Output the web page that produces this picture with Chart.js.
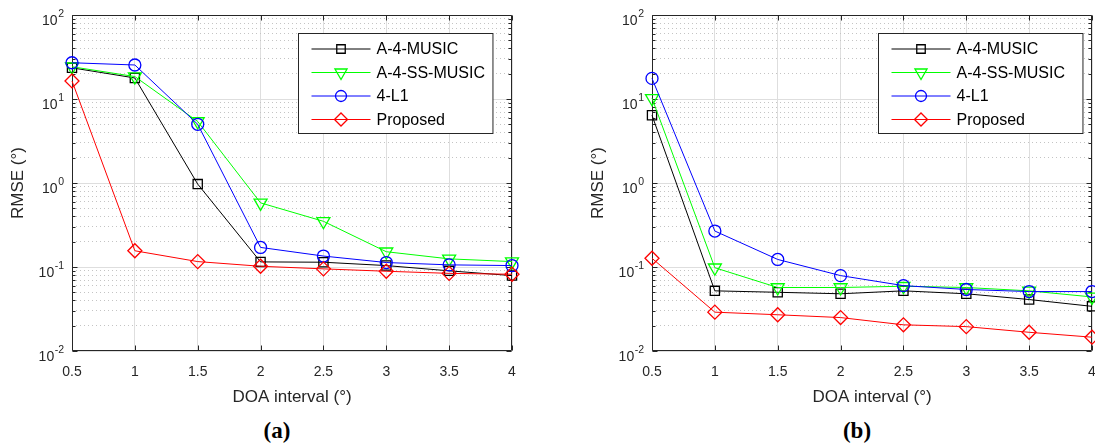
<!DOCTYPE html>
<html>
<head>
<meta charset="utf-8">
<script src="https://cdn.jsdelivr.net/npm/chart.js@4.4.0/dist/chart.umd.min.js"></script>
<style>
  html, body { margin: 0; padding: 0; background: #fff; overflow: hidden; width: 1095px; height: 446px; }
  .panel { position: absolute; top: 0; }
  #pa { left: 0; }
  #pb { left: 580px; }
  .cap { position: absolute; top: 417px; width: 60px; text-align: center; font: bold 23px "Liberation Serif", serif; color: #000; line-height: 27px; }
</style>
</head>
<body>
<div class="panel" id="pa"><canvas id="ca" width="547" height="410"></canvas></div>
<div class="panel" id="pb"><canvas id="cb" width="547" height="410"></canvas></div>
<div class="cap" style="left:247px">(a)</div>
<div class="cap" style="left:827px">(b)</div>
<script>
// x values and axis ticks
const doaInterval = [0.5, 1, 1.5, 2, 2.5, 3, 3.5, 4];
const yExponents = [-2, -1, 0, 1, 2];
const seriesNames = ['A-4-MUSIC', 'A-4-SS-MUSIC', '4-L1', 'Proposed'];

// panel (a)
const musicA    = [23.5, 17.8, 0.97, 0.115, 0.114, 0.104, 0.090, 0.079];
const ssMusicA  = [24.2, 18.5, 5.4, 0.58, 0.35, 0.152, 0.125, 0.116];
const l1A       = [27.0, 25.4, 5.0, 0.171, 0.135, 0.113, 0.106, 0.104];
const proposedA = [16.4, 0.156, 0.116, 0.102, 0.095, 0.089, 0.084, 0.082];

// panel (b)
const musicB    = [6.4, 0.052, 0.050, 0.048, 0.052, 0.048, 0.041, 0.034];
const ssMusicB  = [10.2, 0.098, 0.057, 0.057, 0.059, 0.057, 0.052, 0.044];
const l1B       = [17.6, 0.268, 0.123, 0.079, 0.060, 0.054, 0.051, 0.051];
const proposedB = [0.127, 0.029, 0.027, 0.025, 0.0205, 0.0195, 0.0167, 0.0146];

const axisColor = '#262626';
const fontName = '"Liberation Sans", Arial, sans-serif';

// marker look for each series
const looks = [
  { color: '#000000', pointStyle: 'rect', radius: 6.5, rotation: 0 },
  { color: '#00ff00', pointStyle: 'triangle', radius: 7.5, rotation: 180 },
  { color: '#0000ff', pointStyle: 'circle', radius: 6, rotation: 0 },
  { color: '#ff0000', pointStyle: 'rectRot', radius: 7, rotation: 0 }
];

function isDecade(v) {
  const l = Math.log10(v);
  return Math.abs(l - Math.round(l)) < 1e-9;
}

// grid values 1..9 x each decade
const yGrid = [];
for (let e = yExponents[0]; e < yExponents[yExponents.length - 1]; e++) {
  for (let m = 1; m < 10; m++) yGrid.push(m * Math.pow(10, e));
}
yGrid.push(Math.pow(10, yExponents[yExponents.length - 1]));

// axes box, inward ticks, y labels with exponents, legend box
const framePlugin = {
  id: 'frame',
  beforeDatasetsDraw(chart) {
    const { ctx, chartArea: a, scales: { x, y } } = chart;
    ctx.save();
    ctx.strokeStyle = axisColor;
    ctx.lineWidth = 1;
    ctx.beginPath();
    const L = Math.round(a.left) + 0.5, R = Math.round(a.right) - 0.5;
    const T = Math.round(a.top) + 0.5, B = Math.round(a.bottom) - 0.5;
    ctx.rect(L, T, R - L, B - T);
    doaInterval.forEach(v => {
      const px = Math.round(x.getPixelForValue(v)) + 0.5;
      ctx.moveTo(px, B); ctx.lineTo(px, B - 5);
      ctx.moveTo(px, T); ctx.lineTo(px, T + 5);
    });
    yGrid.forEach(v => {
      const py = Math.round(y.getPixelForValue(v)) + 0.5;
      const len = isDecade(v) ? 5 : 3;
      ctx.moveTo(L, py); ctx.lineTo(L + len, py);
      ctx.moveTo(R, py); ctx.lineTo(R - len, py);
    });
    ctx.stroke();

    // y tick labels 10^e
    ctx.fillStyle = axisColor;
    ctx.textBaseline = 'alphabetic';
    yExponents.forEach(e => {
      const py = y.getPixelForValue(Math.pow(10, e));
      ctx.font = '10.5px ' + fontName;
      const ex = String(e);
      const exW = ctx.measureText(ex).width;
      ctx.textAlign = 'right';
      const xr = a.left - 8;
      ctx.fillText(ex, xr, py + 2);
      ctx.font = '14px ' + fontName;
      ctx.fillText('10', xr - exW - 0.5, py + 10);
    });
    ctx.restore();
  },
  afterDraw(chart, args, opts) {
    const { ctx, chartArea: a } = chart;
    const ds = chart.data.datasets;
    ctx.save();
    ctx.font = '16px ' + fontName;
    let tw = 0;
    ds.forEach(d => { tw = Math.max(tw, ctx.measureText(d.label).width); });
    const w = 13 + 59 + 6 + tw + 8 + (opts.extra || 0);
    const h = 100;
    const bx = Math.round(a.right - (opts.gap || 20) - w) + 0.5;
    const by = Math.round(a.top + 18) + 0.5;
    ctx.fillStyle = '#fff';
    ctx.fillRect(bx, by, w, h);
    ctx.strokeStyle = axisColor;
    ctx.lineWidth = 1;
    ctx.strokeRect(bx, by, w, h);
    ds.forEach((d, i) => {
      const ry = by + 15.5 + i * 23.5;
      const lx0 = bx + 13, lx1 = lx0 + 59;
      ctx.strokeStyle = d.borderColor;
      ctx.lineWidth = 1;
      ctx.beginPath();
      ctx.moveTo(lx0, ry); ctx.lineTo(lx1, ry);
      ctx.stroke();
      ctx.lineWidth = 1.3;
      ctx.fillStyle = 'rgba(0,0,0,0)';
      Chart.helpers.drawPoint(ctx, {
        pointStyle: d.pointStyle, radius: d.pointRadius - 0.5,
        rotation: d.pointRotation, borderWidth: 1.3
      }, (lx0 + lx1) / 2, ry);
      ctx.fillStyle = '#000';
      ctx.textAlign = 'left';
      ctx.textBaseline = 'middle';
      ctx.fillText(d.label, lx1 + 6, ry + 1);
    });
    ctx.restore();
  }
};

function makeChart(id, series, legendOpts) {
  const datasets = series.map((vals, i) => ({
    label: seriesNames[i],
    data: doaInterval.map((x, k) => ({ x: x, y: vals[k] })),
    borderColor: looks[i].color,
    backgroundColor: 'rgba(0,0,0,0)',
    borderWidth: 1,
    pointStyle: looks[i].pointStyle,
    pointRadius: looks[i].radius,
    pointRotation: looks[i].rotation,
    pointBorderWidth: 1.3,
    pointBackgroundColor: 'rgba(0,0,0,0)',
    pointBorderColor: looks[i].color,
    tension: 0,
    clip: false,
    order: 4 - i
  }));

  return new Chart(document.getElementById(id), {
    type: 'line',
    data: { datasets: datasets },
    options: {
      responsive: false,
      animation: false,
      layout: { padding: { top: 15, right: 35, left: 0, bottom: 0 } },
      plugins: { legend: { display: false }, tooltip: { enabled: false }, frame: legendOpts },
      scales: {
        x: {
          type: 'linear',
          min: 0.5,
          max: 4,
          afterBuildTicks: s => { s.ticks = doaInterval.map(v => ({ value: v })); },
          afterFit: s => { s.height = 59; },
          ticks: {
            color: axisColor,
            font: { family: fontName, size: 14 },
            padding: 13,
            maxRotation: 0,
            callback: v => String(v)
          },
          grid: { color: '#dedede', lineWidth: 1, drawTicks: false },
          border: { display: false },
          title: {
            display: true,
            text: 'DOA interval (°)',
            color: axisColor,
            font: { family: fontName, size: 17 },
            padding: { top: 0, bottom: 2 }
          }
        },
        y: {
          type: 'logarithmic',
          min: 0.01,
          max: 100,
          afterBuildTicks: s => { s.ticks = yGrid.map(v => ({ value: v })); },
          afterFit: s => { s.width = 72; },
          ticks: { display: false },
          grid: {
            drawTicks: false,
            color: c => (c.tick && isDecade(c.tick.value)) ? '#dedede' : '#c4c4c4'
          },
          border: {
            display: false,
            dash: c => (c.tick && isDecade(c.tick.value)) ? [] : [1, 3]
          },
          title: {
            display: true,
            text: 'RMSE (°)',
            color: axisColor,
            font: { family: fontName, size: 17 },
            padding: { top: 8, bottom: 0 }
          }
        }
      }
    },
    plugins: [framePlugin]
  });
}

makeChart('ca', [musicA, ssMusicA, l1A, proposedA], { gap: 20, extra: 0 });
makeChart('cb', [musicB, ssMusicB, l1B, proposedB], { gap: 10, extra: 10 });
</script>
</body>
</html>
